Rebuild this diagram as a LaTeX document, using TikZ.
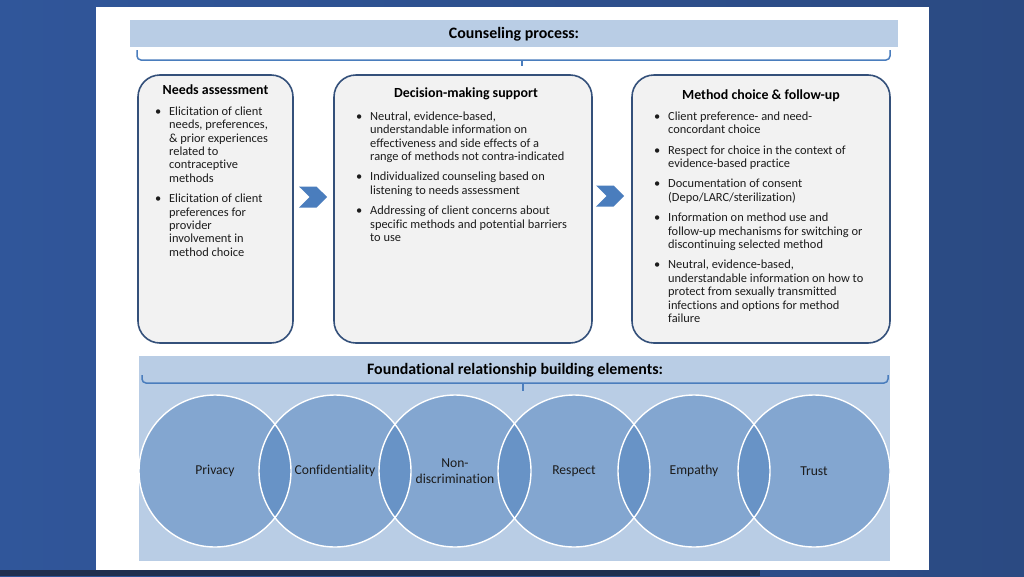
\documentclass[tikz,border=0pt]{standalone}
\usepackage{fontspec}
\setmainfont[Ligatures=NoCommon]{Carlito}
\usetikzlibrary{shapes.symbols}
\definecolor{bgL}{HTML}{30569A}
\definecolor{bgR}{HTML}{2B4A82}
\definecolor{bgDark}{HTML}{1F2F4E}
\definecolor{lightblue}{HTML}{B9CDE5}
\definecolor{officeblue}{HTML}{4F81BD}
\definecolor{chev}{HTML}{4A7DBD}
\definecolor{boxborder}{HTML}{34507A}
\definecolor{boxfill}{HTML}{F2F2F2}
\definecolor{txt}{HTML}{1C1C1C}
\newcommand{\bl}{\makebox[14pt][l]{\textbullet}}
\tikzset{
  stagebox/.style={draw=boxborder, fill=boxfill, line width=1.6pt, rounded corners=22pt, inner sep=0pt},
  stagetitle/.style={font=\fontsize{13.9}{16}\selectfont\bfseries, text=black, inner sep=0pt, anchor=base},
  bodytext/.style={font=\fontsize{12.4}{13.4}\selectfont, text=txt, inner sep=0pt, anchor=base west},
  bandtitle/.style={font=\fontsize{15.9}{18}\selectfont\bfseries, text=black, inner sep=0pt},
  brc/.style={draw=chev, line width=1.5pt, rounded corners=4pt},
  chevron/.style={shape=signal, signal from=west, signal to=east, fill=chev, minimum width=28pt, minimum height=21pt, inner sep=0pt},
  elem/.style={circle, minimum size=152pt, inner sep=0pt, fill=officeblue, fill opacity=0.5, text opacity=1, text=txt, font=\fontsize{13.6}{16.5}\selectfont, align=center},
  elemring/.style={draw=white, line width=1.4pt}
}
\begin{document}
\begin{tikzpicture}[x=1pt,y=-1pt]
\useasboundingbox (0,0) rectangle (1024,576);
% slide background
\shade[left color=bgL, right color=bgR] (0,0) rectangle (1024,576);
\fill[bgDark] (0,570) rectangle (760,576);
\fill[white] (96,7) rectangle (929,570);

% header
\node[fill=lightblue, minimum width=768pt, minimum height=27pt, inner sep=0pt] (hdr) at (514,33.5) {};
\node[bandtitle] (hdrt) at (514,34) {Counseling process:};
\draw[brc] (137,50) -- (137,60) -- (890,60) -- (890,50);
\draw[brc] (522,60) -- (522,66);

% stage boxes
\node[stagebox, minimum width=155pt, minimum height=268pt] (na) at (215.5,209) {};
\node[stagebox, minimum width=258pt, minimum height=268pt] (dm) at (463,209) {};
\node[stagebox, minimum width=258pt, minimum height=268pt] (mc) at (761,209) {};

\node[stagetitle] (nat) at (215.5,94.5) {Needs assessment};
\node[stagetitle] (dmt) at (466,97.5) {Decision-making support};
\node[stagetitle] (mct) at (761,99.5) {Method choice \& follow-up};

\node[bodytext] (nab) at (155,115.2) {%
\begin{tabular}[t]{@{}l@{}l@{}}
\bl & Elicitation of client\\
 & needs, preferences,\\
 & \& prior experiences\\
 & related to\\
 & contraceptive\\
 & methods\\[7pt]
\bl & Elicitation of client\\
 & preferences for\\
 & provider\\
 & involvement in\\
 & method choice
\end{tabular}};

\node[bodytext] (dmb) at (356,120.2) {%
\begin{tabular}[t]{@{}l@{}l@{}}
\bl & Neutral, evidence-based,\\
 & understandable information on\\
 & effectiveness and side effects of a\\
 & range of methods not contra-indicated\\[7pt]
\bl & Individualized counseling based on\\
 & listening to needs assessment\\[7pt]
\bl & Addressing of client concerns about\\
 & specific methods and potential barriers\\
 & to use
\end{tabular}};

\node[bodytext] (mcb) at (654,120.2) {%
\begin{tabular}[t]{@{}l@{}l@{}}
\bl & Client preference- and need-\\
 & concordant choice\\[7pt]
\bl & Respect for choice in the context of\\
 & evidence-based practice\\[7pt]
\bl & Documentation of consent\\
 & (Depo/LARC/sterilization)\\[7pt]
\bl & Information on method use and\\
 & follow-up mechanisms for switching or\\
 & discontinuing selected method\\[7pt]
\bl & Neutral, evidence-based,\\
 & understandable information on how to\\
 & protect from sexually transmitted\\
 & infections and options for method\\
 & failure
\end{tabular}};

% chevrons
\node[chevron] (ch1) at (313,197) {};
\node[chevron] (ch2) at (610,196) {};

% foundational band
\node[fill=lightblue, minimum width=751pt, minimum height=205pt, inner sep=0pt] (fnd) at (514.5,458.5) {};
\node[bandtitle] (fndt) at (515,370.5) {Foundational relationship building elements:};
\draw[brc] (142,375) -- (142,383) -- (888,383) -- (888,375);
\draw[brc] (523,383) -- (523,391);

\node[elem] (e1) at (215,471) {Privacy};
\node[elem] (e2) at (335,471) {Confidentiality};
\node[elem] (e3) at (455,471) {Non-\\discrimination};
\node[elem] (e4) at (574,471) {Respect};
\node[elem] (e5) at (694,471) {Empathy};
\node[elem] (e6) at (814,471) {Trust};
\foreach \n in {e1,e2,e3,e4,e5,e6} {
  \draw[elemring] (\n.center) circle (76);
}
\end{tikzpicture}
\end{document}
